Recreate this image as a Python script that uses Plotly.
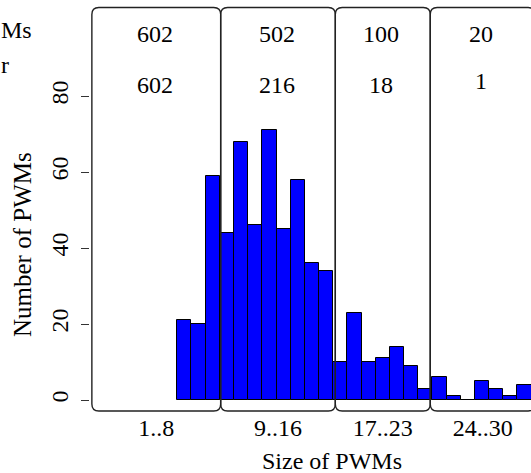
import plotly.graph_objects as go

# Histogram of PWM sizes (one bar per size)
sizes = list(range(6, 31))
counts = [21, 20, 59, 44, 68, 46, 71, 45, 58, 36, 34,
          10, 23, 10, 11, 14, 9, 3,
          6, 1, 0, 5, 3, 1, 4]

# Size groups and the two rows of numbers shown in each group box
group_labels = ["1..8", "9..16", "17..23", "24..30"]
group_edges = [-0.53, 8.56, 16.65, 23.35, 30.75]
n_pwms = [602, 502, 100, 20]
n_clusters = [602, 216, 18, 1]

# Row captions in the left margin
row_captions = ["Ms", "r"]

y_ticks = [0, 20, 40, 60, 80]

FONT = "Liberation Serif"
FS = 24
W, H = 531, 473
ML, MR, MT, MB = 90, 0, 5, 59
X_RANGE = [-0.662, 30.46]
Y_RANGE = [-3.68, 103.95]

fig = go.Figure()

fig.add_trace(go.Bar(
    x=sizes, y=counts, width=1.0,
    marker=dict(color="#0000FF", line=dict(color="black", width=1)),
    showlegend=False, hoverinfo="x+y",
))

# Rounded group boxes drawn over the bars
y_top, y_bot = 103.29, -2.89
rx, ry = 0.49, 1.84
for x0, x1 in zip(group_edges[:-1], group_edges[1:]):
    path = (f"M {x0+rx},{y_top} L {x1-rx},{y_top} Q {x1},{y_top} {x1},{y_top-ry} "
            f"L {x1},{y_bot+ry} Q {x1},{y_bot} {x1-rx},{y_bot} "
            f"L {x0+rx},{y_bot} Q {x0},{y_bot} {x0},{y_bot+ry} "
            f"L {x0},{y_top-ry} Q {x0},{y_top} {x0+rx},{y_top} Z")
    fig.add_shape(type="path", path=path, xref="x", yref="y",
                  line=dict(color="#222222", width=1.4), layer="above")

centers = [(a + b) / 2 for a, b in zip(group_edges[:-1], group_edges[1:])]

row1_y = 96.2
row2_y = 82.9
for i, (cx, a, b) in enumerate(zip(centers, n_pwms, n_clusters)):
    fig.add_annotation(x=cx - 0.1, y=row1_y, xref="x", yref="y", text=str(a),
                       showarrow=False, font=dict(family=FONT, size=FS, color="black"))
    yb = row2_y + (1.0 if i == len(centers) - 1 else 0)
    fig.add_annotation(x=cx - 0.1, y=yb, xref="x", yref="y", text=str(b),
                       showarrow=False, font=dict(family=FONT, size=FS, color="black"))


def px_to_paper_x(px):
    return (px - ML) / (W - ML - MR)


def py_to_paper_y(py):
    return (H - MB - py) / (H - MT - MB)


for caption, py in zip(row_captions, [30, 64.5]):
    fig.add_annotation(x=px_to_paper_x(0), y=py_to_paper_y(py), xref="paper", yref="paper",
                       text=caption, showarrow=False, xanchor="left", yanchor="middle",
                       borderpad=0,
                       font=dict(family=FONT, size=FS, color="black"))

# Axis titles
fig.add_annotation(x=px_to_paper_x(332), y=py_to_paper_y(461), xref="paper", yref="paper",
                   text="Size of PWMs", showarrow=False, xanchor="center", yanchor="middle",
                   font=dict(family=FONT, size=FS, color="black"))
fig.add_annotation(x=px_to_paper_x(22), y=py_to_paper_y(245), xref="paper", yref="paper",
                   text="Number of PWMs", showarrow=False, textangle=-90,
                   xanchor="center", yanchor="middle",
                   font=dict(family=FONT, size=25, color="black"))

fig.update_layout(
    width=W, height=H,
    margin=dict(l=ML, r=MR, t=MT, b=MB),
    paper_bgcolor="white", plot_bgcolor="white",
    bargap=0,
    font=dict(family=FONT, size=FS, color="black"),
    xaxis=dict(range=X_RANGE, tickvals=centers, ticktext=group_labels,
               showgrid=False, zeroline=False, showline=False, ticks="",
               ticklabelstandoff=-3,
               tickfont=dict(family=FONT, size=FS, color="black")),
    yaxis=dict(range=Y_RANGE, tickvals=y_ticks, ticktext=[str(v) for v in y_ticks],
               showgrid=False, zeroline=False, showline=False,
               ticks="outside", ticklen=8, tickwidth=1, tickcolor="#333333",
               tickangle=-90, ticklabelstandoff=3,
               tickfont=dict(family=FONT, size=FS, color="black")),
)

fig.write_html("out.html")
